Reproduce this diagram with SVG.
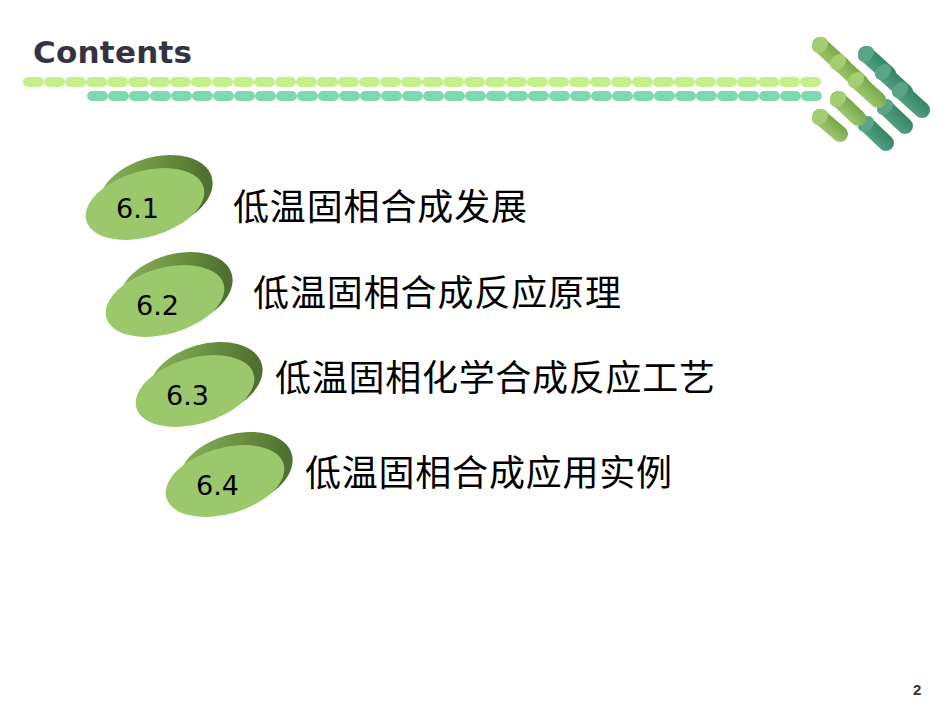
<svg xmlns="http://www.w3.org/2000/svg" width="950" height="713" viewBox="0 0 950 713">
<defs>
<style>
.t{font-family:"Noto Sans CJK SC","DejaVu Sans",sans-serif;font-size:36px;fill:#000}
.n{font-family:"DejaVu Sans",sans-serif;font-size:27px;fill:#000}
.lc{stroke:url(#lg);stroke-width:16;stroke-linecap:round}
.tc{stroke:url(#tg);stroke-width:16;stroke-linecap:round}
</style>
<linearGradient id="body" x1="0" y1="0" x2="1" y2="0.3"><stop offset="0" stop-color="#8fba60"/><stop offset="0.6" stop-color="#6a8f3e"/><stop offset="1" stop-color="#4f7030"/></linearGradient>
<linearGradient id="lg" x1="0" y1="1" x2="1" y2="0"><stop offset="0" stop-color="#a9d27a"/><stop offset="1" stop-color="#6e9a3a"/></linearGradient>
<linearGradient id="tg" x1="0" y1="1" x2="1" y2="0"><stop offset="0" stop-color="#5aaa8a"/><stop offset="1" stop-color="#2f7a5e"/></linearGradient>
<g id="disc">
<ellipse cx="156" cy="193" rx="58" ry="36" transform="rotate(-16 156 193)" fill="url(#body)"/>
<ellipse cx="145" cy="204" rx="61" ry="33" transform="rotate(-16 145 204)" fill="#9cc86c"/>
</g>
</defs>
<text x="33" y="63" font-family="'DejaVu Sans',sans-serif" font-weight="bold" font-size="31" fill="#333344" textLength="159">Contents</text>
<g id="dashes">
<line x1="28" y1="82" x2="820" y2="82" stroke="#c4f08a" stroke-width="10" stroke-linecap="round" stroke-dasharray="11 10"/>
<line x1="92" y1="96" x2="820" y2="96" stroke="#7fd8b4" stroke-width="10" stroke-linecap="round" stroke-dasharray="11 10"/>
</g>
<g id="cylinders">
<line class="tc" x1="866" y1="54" x2="888" y2="74"/><ellipse cx="866" cy="54" rx="7" ry="9" transform="rotate(45 866 54)" fill="#5aa58a"/>
<line class="tc" x1="883" y1="72" x2="905" y2="92"/><ellipse cx="883" cy="72" rx="7" ry="9" transform="rotate(45 883 72)" fill="#5aa58a"/>
<line class="tc" x1="900" y1="90" x2="922" y2="110"/><ellipse cx="900" cy="90" rx="7" ry="9" transform="rotate(45 900 90)" fill="#5aa58a"/>
<line class="tc" x1="885" y1="107" x2="905" y2="126"/><ellipse cx="885" cy="107" rx="7" ry="9" transform="rotate(45 885 107)" fill="#5aa58a"/>
<line class="tc" x1="866" y1="124" x2="886" y2="143"/><ellipse cx="866" cy="124" rx="7" ry="9" transform="rotate(45 866 124)" fill="#5aa58a"/>
<line class="lc" x1="820" y1="45" x2="843" y2="66"/><ellipse cx="820" cy="45" rx="7" ry="9" transform="rotate(45 820 45)" fill="#a3cf72"/>
<line class="lc" x1="838" y1="62" x2="861" y2="83"/><ellipse cx="838" cy="62" rx="7" ry="9" transform="rotate(45 838 62)" fill="#a3cf72"/>
<line class="lc" x1="856" y1="80" x2="878" y2="100"/><ellipse cx="856" cy="80" rx="7" ry="9" transform="rotate(45 856 80)" fill="#a3cf72"/>
<line class="lc" x1="838" y1="99" x2="858" y2="118"/><ellipse cx="838" cy="99" rx="7" ry="9" transform="rotate(45 838 99)" fill="#a3cf72"/>
<line class="lc" x1="820" y1="117" x2="840" y2="134"/><ellipse cx="820" cy="117" rx="7" ry="9" transform="rotate(45 820 117)" fill="#a3cf72"/>
</g>
<g id="item1"><use href="#disc"/><text class="n" x="116" y="218">6.1</text><text class="t" x="233" y="220" textLength="294">低温固相合成发展</text></g>
<g id="item2"><use href="#disc" x="20" y="97"/><text class="n" x="136" y="315">6.2</text><text class="t" x="253" y="306" textLength="368">低温固相合成反应原理</text></g>
<g id="item3"><use href="#disc" x="50" y="187"/><text class="n" x="166" y="405">6.3</text><text class="t" x="275" y="391" textLength="440">低温固相化学合成反应工艺</text></g>
<g id="item4"><use href="#disc" x="80" y="277"/><text class="n" x="196" y="495">6.4</text><text class="t" x="305" y="486" textLength="367">低温固相合成应用实例</text></g>
<text x="913" y="695" font-family="'Liberation Sans',sans-serif" font-weight="bold" font-size="15" fill="#333">2</text>
</svg>
